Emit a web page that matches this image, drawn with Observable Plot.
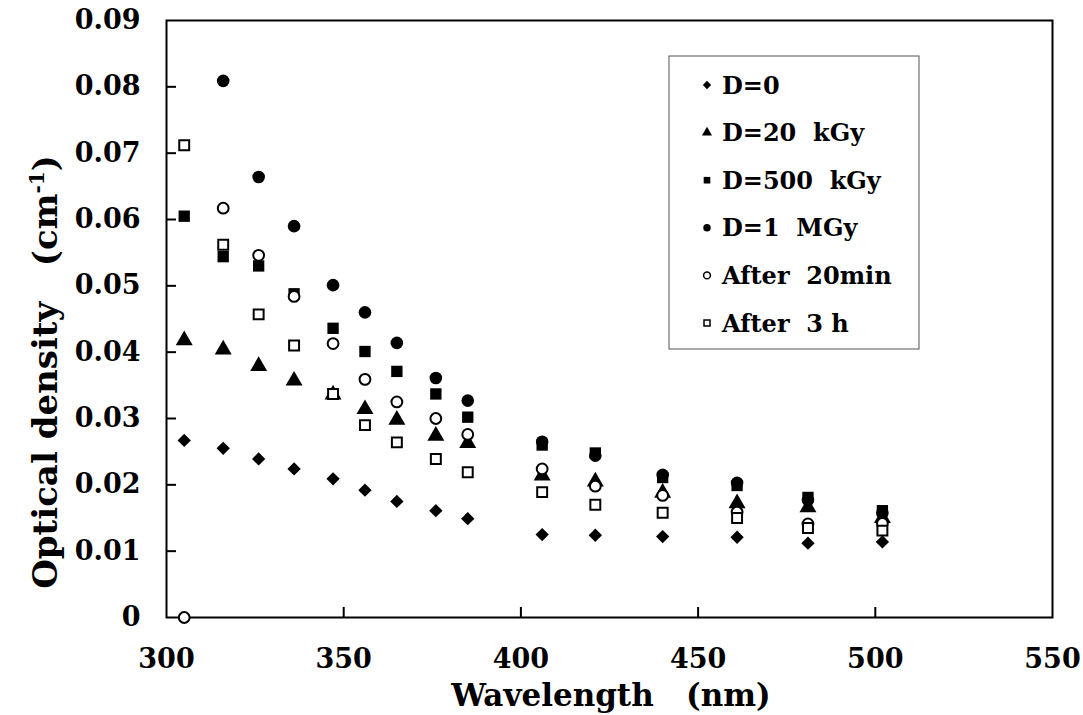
<!DOCTYPE html>
<html><head><meta charset="utf-8">
<script src="https://cdn.jsdelivr.net/npm/d3@7"></script>
<script src="https://cdn.jsdelivr.net/npm/@observablehq/plot@0.6"></script>
<style>
body{margin:0;background:#fff}
#wrap{position:relative;width:1083px;height:715px}
</style>
</head><body><div id="wrap"></div>
<script>
// ---- data ----
const wavelengths = [305,316,326,336,347,356,365,376,385,406,421,440,461,481,502];
const dose0     = [0.0267,0.0255,0.0239,0.0224,0.0209,0.0192,0.0175,0.0161,0.0149,0.0125,0.0124,0.0122,0.0121,0.0112,0.0114];
const dose20k   = [0.0418,0.0404,0.0379,0.0357,0.0336,0.0314,0.0298,0.0274,0.0263,0.0214,0.0205,0.0188,0.0172,0.0166,0.0150];
const dose500k  = [0.0605,0.0544,0.0530,0.0488,0.0436,0.0401,0.0371,0.0337,0.0302,0.0260,0.0248,0.0211,0.0199,0.0181,0.0161];
const dose1M    = [null,0.0809,0.0664,0.0590,0.0501,0.0460,0.0414,0.0361,0.0327,0.0265,0.0244,0.0215,0.0203,0.0177,0.0158];
const after20   = [0,0.0617,0.0546,0.0484,0.0413,0.0359,0.0325,0.0300,0.0276,0.0224,0.0198,0.0184,0.0159,0.0141,0.0142];
const after3h   = [0.0712,0.0562,0.0457,0.0410,0.0337,0.0290,0.0264,0.0239,0.0219,0.0189,0.0170,0.0158,0.0150,0.0135,0.0131];
const seriesNames = ["D=0","D=20 kGy","D=500 kGy","D=1 MGy","After 20min","After 3 h"];
const xTicks = [300,350,400,450,500,550];
const yTicks = [0,0.01,0.02,0.03,0.04,0.05,0.06,0.07,0.08,0.09];
const xTitle = "Wavelength";
const xUnit = "(nm)";
const yTitle = "Optical density";
const yUnit = ["(cm", "-1", ")"];

// ---- table built from arrays ----
const allSeries = [dose0, dose20k, dose500k, dose1M, after20, after3h];
const rows = allSeries.flatMap((vals, si) =>
  wavelengths.map((w, i) => ({series: seriesNames[si], wl: w, od: vals[i]})).filter(d => d.od != null));

// styles (kept apart from data)
const styles = {
  "D=0":        {symbol: "diamond2", fill: "black", stroke: "none", r: 6.0},
  "D=20 kGy":   {symbol: "triangle", fill: "black", stroke: "none", r: 6.3},
  "D=500 kGy":  {symbol: "square",   fill: "black", stroke: "none", r: 6.4},
  "D=1 MGy":    {symbol: "circle",   fill: "black", stroke: "none", r: 6.3},
  "After 20min":{symbol: "circle",   fill: "white", stroke: "black", r: 5.4},
  "After 3 h":  {symbol: "square",   fill: "white", stroke: "black", r: 5.6}
};

const FONT = "'DejaVu Serif', serif";
const W = 1083, H = 715;
const mL = 166, mR = 31, mT = 20, mB = 98;
const xDomain = [300, 550], yDomain = [0, 0.09];
// inward tick length: 10px expressed through each scale's extent
const plotW = W - mL - mR, plotH = H - mT - mB;
const xTickLen = 10 * (xDomain[1] - xDomain[0]) / plotW;
const yTickLen = 10 * (yDomain[1] - yDomain[0]) / plotH;

const dotMarks = seriesNames.map(name => {
  const s = styles[name];
  return Plot.dot(rows.filter(d => d.series === name), {
    x: "wl", y: "od", symbol: () => s.symbol, r: s.r,
    fill: s.fill, stroke: s.stroke, strokeWidth: 2
  });
});

const chart = Plot.plot({
  width: W, height: H,
  marginLeft: mL, marginRight: mR, marginTop: mT, marginBottom: mB,
  style: {fontFamily: FONT, fontWeight: "bold", fontSize: "27px", color: "black", background: "white"},
  x: {domain: xDomain, ticks: xTicks, label: null},
  y: {domain: yDomain, ticks: yTicks, label: null},
  symbol: {type: "identity"},
  marks: [
    Plot.axisX({ticks: xTicks, tickSize: 0, tickPadding: 31, tickFormat: d => String(d), fontSize: 27}),
    Plot.axisY({ticks: yTicks, tickSize: 0, tickPadding: 26, tickFormat: d => d === 0 ? "0" : d3.format(".2f")(d), fontSize: 27}),
    Plot.ruleX(xTicks.slice(1, -1), {x: d => d, y1: yDomain[0], y2: yDomain[0] + yTickLen, stroke: "black", strokeWidth: 2}),
    Plot.ruleY(yTicks.slice(1, -1), {y: d => d, x1: xDomain[0], x2: xDomain[0] + xTickLen, stroke: "black", strokeWidth: 2}),
    Plot.frame({stroke: "black", strokeWidth: 2}),
    ...dotMarks
  ]
});

document.getElementById("wrap").appendChild(chart);
const svg = d3.select(chart);

// axis titles
svg.append("text")
  .attr("x", 611).attr("y", 706)
  .attr("text-anchor", "middle")
  .attr("font-family", FONT).attr("font-weight", "bold").attr("font-size", 31)
  .attr("xml:space", "preserve")
  .text(xTitle + "   " + xUnit);

const yt = svg.append("text")
  .attr("transform", "translate(57,372) rotate(-90)")
  .attr("text-anchor", "middle")
  .attr("font-family", FONT).attr("font-weight", "bold").attr("font-size", 34)
  .attr("xml:space", "preserve");
yt.append("tspan").text(yTitle + "   " + yUnit[0]);
yt.append("tspan").attr("font-size", 20).attr("dy", -13).text(yUnit[1]);
yt.append("tspan").attr("dy", 13).text(yUnit[2]);

// legend box
const lg = svg.append("g");
lg.append("rect").attr("x", 669).attr("y", 56).attr("width", 250).attr("height", 293)
  .attr("fill", "white").attr("stroke", "#555").attr("stroke-width", 1);
const legendY0 = 85, legendDy = 47.6;
const symMap = {diamond2: d3.symbolDiamond2, triangle: d3.symbolTriangle, square: d3.symbolSquare, circle: d3.symbolCircle};
seriesNames.forEach((name, i) => {
  const s = styles[name];
  const cy = legendY0 + i * legendDy;
  lg.append("path")
    .attr("transform", `translate(707,${cy})`)
    .attr("d", d3.symbol(symMap[s.symbol], s.fill === "white" ? 36 : 44)())
    .attr("fill", s.fill).attr("stroke", s.stroke).attr("stroke-width", 1.5);
  lg.append("text").attr("x", 722).attr("y", cy).attr("dy", "0.36em")
    .attr("text-anchor", "start")
    .attr("font-family", FONT).attr("font-weight", "bold").attr("font-size", 24)
    .attr("xml:space", "preserve")
    .text(name.replace(" ", "  "));
});
</script>
</body></html>
